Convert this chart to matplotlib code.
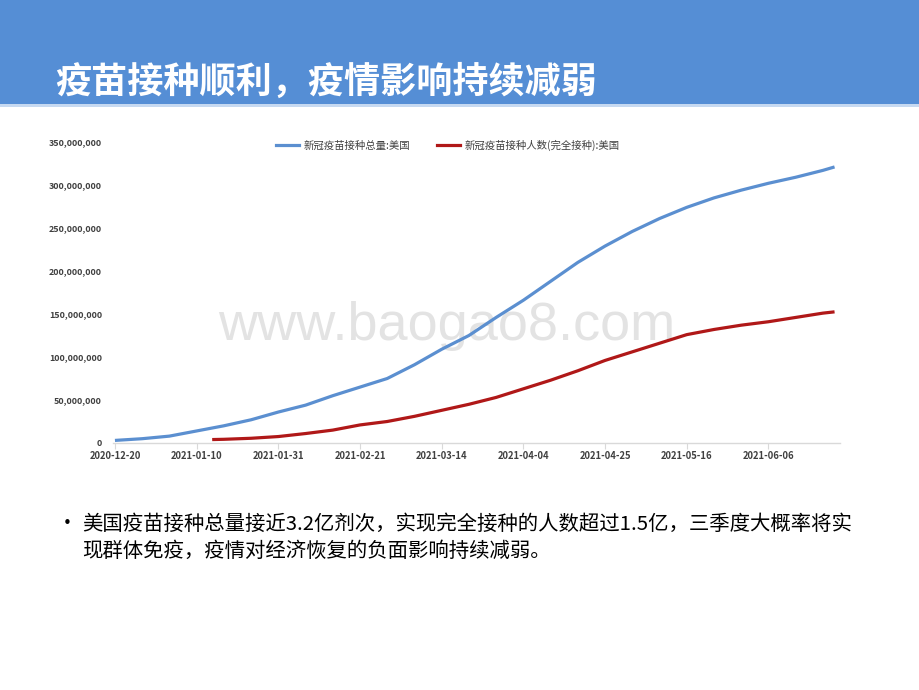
import matplotlib
matplotlib.use("Agg")
import matplotlib.pyplot as plt
import matplotlib.dates as mdates
from matplotlib.ticker import FuncFormatter, MultipleLocator
from matplotlib.patches import Rectangle
from matplotlib.lines import Line2D
import pandas as pd
import numpy as np

plt.rcParams['font.family'] = ['Noto Sans CJK SC', 'DejaVu Sans']

title = "疫苗接种顺利，疫情影响持续减弱"
series1_name = "新冠疫苗接种总量:美国"
series2_name = "新冠疫苗接种人数(完全接种):美国"

dates1 = ["2020-12-20", "2020-12-27", "2021-01-03", "2021-01-10", "2021-01-17", "2021-01-24",
          "2021-01-31", "2021-02-07", "2021-02-14", "2021-02-21", "2021-02-28", "2021-03-07",
          "2021-03-14", "2021-03-21", "2021-03-28", "2021-04-04", "2021-04-11", "2021-04-18",
          "2021-04-25", "2021-05-02", "2021-05-09", "2021-05-16", "2021-05-23", "2021-05-30",
          "2021-06-06", "2021-06-13", "2021-06-20", "2021-06-23"]
total_doses_m = [3, 5, 8, 14, 20, 27, 36, 44, 55, 65, 75, 91, 109, 125, 146, 166, 188, 210,
                 229, 246, 261, 274, 285, 294, 302, 309, 317, 321]

dates2 = ["2021-01-14", "2021-01-17", "2021-01-24", "2021-01-31", "2021-02-07", "2021-02-14",
          "2021-02-21", "2021-02-28", "2021-03-07", "2021-03-14", "2021-03-21", "2021-03-28",
          "2021-04-04", "2021-04-11", "2021-04-18", "2021-04-25", "2021-05-02", "2021-05-09",
          "2021-05-16", "2021-05-23", "2021-05-30", "2021-06-06", "2021-06-13", "2021-06-20",
          "2021-06-23"]
fully_vacc_m = [4, 4.3, 5.5, 7.5, 11, 15, 21, 25, 31, 38, 45, 53, 63, 73, 84, 96, 106, 116,
                126, 132, 137, 141, 146, 151, 152.5]

tick_dates = ["2020-12-20", "2021-01-10", "2021-01-31", "2021-02-21", "2021-03-14",
              "2021-04-04", "2021-04-25", "2021-05-16", "2021-06-06"]

bullet_lines = ["美国疫苗接种总量接近3.2亿剂次，实现完全接种的人数超过1.5亿，三季度大概率将实",
                "现群体免疫，疫情对经济恢复的负面影响持续减弱。"]

blue = "#5B8FD0"
red = "#B01818"
header = "#558ED5"

fig = plt.figure(figsize=(9.2, 6.9), dpi=100)
fig.patch.set_facecolor("white")

# header band
fig.patches.append(Rectangle((0, 1 - 104 / 690), 1, 104 / 690, transform=fig.transFigure,
                             facecolor=header, edgecolor="none", zorder=0))
fig.patches.append(Rectangle((0, 1 - 107 / 690), 1, 3 / 690, transform=fig.transFigure,
                             facecolor="#C6D9F1", edgecolor="none", zorder=0))
fig.text(55 / 920, 1 - 82 / 690, title, color="white", fontsize=26, fontweight="bold",
         ha="left", va="center")

ax = fig.add_axes([113 / 920, 1 - 443 / 690, (840 - 113) / 920, (443 - 142) / 690])

x1 = pd.to_datetime(dates1)
x2 = pd.to_datetime(dates2)
y1 = np.array(total_doses_m) * 1e6
y2 = np.array(fully_vacc_m) * 1e6

ax.plot(x1, y1, color=blue, lw=2.3, solid_capstyle="butt", zorder=3)
ax.plot(x2, y2, color=red, lw=2.3, solid_capstyle="butt", zorder=3)

start = pd.Timestamp("2020-12-20")
ax.set_xlim(start - pd.Timedelta(days=0.5), start + pd.Timedelta(days=186.4))
ax.set_ylim(0, 350e6)
ax.yaxis.set_major_locator(MultipleLocator(50e6))
ax.yaxis.set_major_formatter(FuncFormatter(lambda v, p: f"{int(v):,}"))
ax.set_xticks(pd.to_datetime(tick_dates))
ax.xaxis.set_major_formatter(mdates.DateFormatter("%Y-%m-%d"))

for s in ["top", "right", "left"]:
    ax.spines[s].set_visible(False)
ax.spines["bottom"].set_color("#D9D9D9")
ax.spines["bottom"].set_linewidth(1.0)
ax.tick_params(axis="y", length=0, pad=8, labelsize=6.4, labelcolor="#404040")
ax.tick_params(axis="x", length=4, color="#D9D9D9", direction="out", pad=2,
               labelsize=6.8, labelcolor="#404040")
for lab in ax.get_yticklabels() + ax.get_xticklabels():
    lab.set_fontweight("bold")

# watermark
fig.text(447 / 920, 1 - 326 / 690, "www.baogao8.com", color="#E3E3E3", fontsize=39,
         family="Liberation Sans", ha="center", va="center", zorder=1)
ax.set_zorder(2)
ax.patch.set_alpha(0)

# legend
leg_handles = [Line2D([0], [0], color=blue, lw=2.3), Line2D([0], [0], color=red, lw=2.3)]
leg = fig.legend(leg_handles, [series1_name, series2_name], loc="center",
                 bbox_to_anchor=(448 / 920, 1 - 145 / 690), ncol=2, frameon=False,
                 fontsize=7.5, handlelength=2.2, handletextpad=0.4, columnspacing=2.6)
for t in leg.get_texts():
    t.set_color("#404040")

# bullet text
fig.text(57 / 920, 1 - 524 / 690, "•", fontsize=15, ha="left", va="center", color="black")
for i, line in enumerate(bullet_lines):
    fig.text(82 / 920, 1 - (524 + i * 27) / 690, line, fontsize=14.7, ha="left",
             va="center", color="black")

fig.savefig("out.png", dpi=100, facecolor="white")
